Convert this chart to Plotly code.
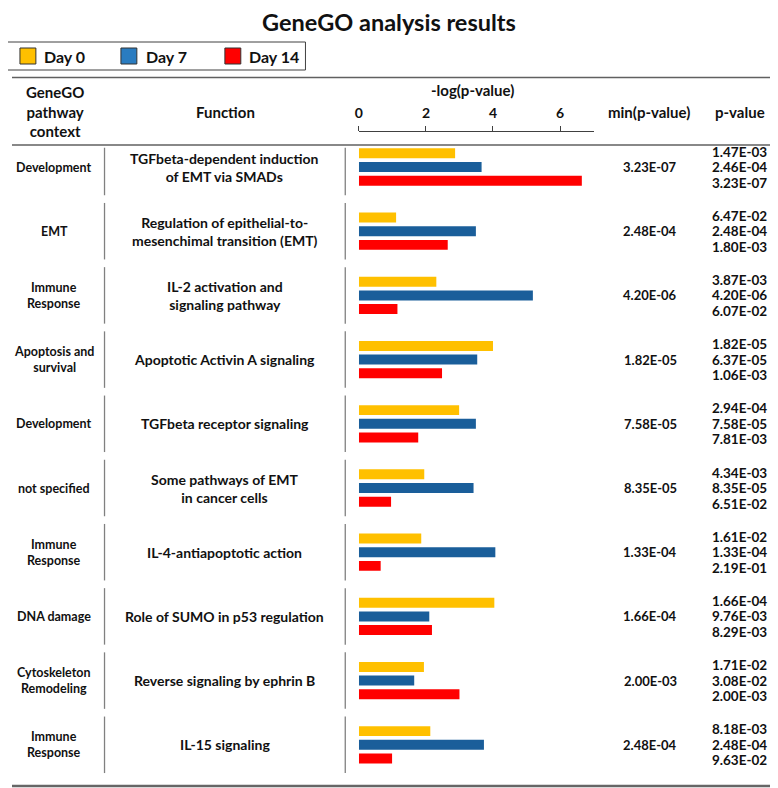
import plotly.graph_objects as go

# ---------------- data ----------------
contexts = ["Development", "EMT", "Immune<br>Response", "Apoptosis and<br>survival",
            "Development", "not specified", "Immune<br>Response", "DNA damage",
            "Cytoskeleton<br>Remodeling", "Immune<br>Response"]
functions = ["TGFbeta-dependent induction<br>of EMT via SMADs",
             "Regulation of epithelial-to-<br>mesenchimal transition (EMT)",
             "IL-2 activation and<br>signaling pathway",
             "Apoptotic Activin A signaling",
             "TGFbeta receptor signaling",
             "Some pathways of EMT<br>in cancer cells",
             "IL-4-antiapoptotic action",
             "Role of SUMO in p53 regulation",
             "Reverse signaling by ephrin B",
             "IL-15 signaling"]
series_names = ["Day 0", "Day 7", "Day 14"]
day0 = [2.87, 1.11, 2.31, 4.00, 2.99, 1.95, 1.86, 4.04, 1.94, 2.13]
day7 = [3.66, 3.49, 5.19, 3.53, 3.49, 3.42, 4.07, 2.10, 1.65, 3.73]
day14 = [6.65, 2.65, 1.15, 2.48, 1.77, 0.96, 0.65, 2.18, 3.00, 0.99]
min_p = ["3.23E-07", "2.48E-04", "4.20E-06", "1.82E-05", "7.58E-05",
         "8.35E-05", "1.33E-04", "1.66E-04", "2.00E-03", "2.48E-04"]
p_day0 = ["1.47E-03", "6.47E-02", "3.87E-03", "1.82E-05", "2.94E-04",
          "4.34E-03", "1.61E-02", "1.66E-04", "1.71E-02", "8.18E-03"]
p_day7 = ["2.46E-04", "2.48E-04", "4.20E-06", "6.37E-05", "7.58E-05",
          "8.35E-05", "1.33E-04", "9.76E-03", "3.08E-02", "2.48E-04"]
p_day14 = ["3.23E-07", "1.80E-03", "6.07E-02", "1.06E-03", "7.81E-03",
           "6.51E-02", "2.19E-01", "8.29E-03", "2.00E-03", "9.63E-02"]
x_ticks = [0, 2, 4, 6]

colors = ["#FFC000", "#1A5E9A", "#FF0000"]
legend_colors = ["#FFC000", "#2A7CC0", "#FF0000"]

# page has an 8px body margin: figure is offset by 8px
OFF = 8
W, H = 770, 780
FONT = "Lato, 'Open Sans', sans-serif"


def fx(px):
    return (px - OFF) / W


def fy(py):
    return 1 - (py - OFF) / H


fig = go.Figure()
for name, vals, col in zip(series_names, [day0, day7, day14], colors):
    fig.add_trace(go.Bar(y=functions, x=vals, orientation="h", name=name,
                         marker=dict(color=col, line=dict(width=0)),
                         showlegend=False, hoverinfo="x+name"))

n = len(functions)
row_top, row_pitch = 167, 64.2
dom_top = row_top - row_pitch / 2
dom_bot = row_top + (n - 1) * row_pitch + row_pitch / 2

fig.update_layout(
    width=W, height=H, margin=dict(l=0, r=0, t=0, b=0),
    paper_bgcolor="white", plot_bgcolor="white",
    font=dict(family=FONT, color="#111111"),
    barmode="group", bargap=0.361, bargroupgap=0.27,
    xaxis=dict(domain=[fx(356.7), fx(592.6)], range=[0, 7], side="top",
               anchor="free", position=fy(130.7), showgrid=False, zeroline=False,
               showline=True, linecolor="#404040", linewidth=1,
               ticks="outside", ticklen=5, tickcolor="#404040", tickwidth=1,
               tickvals=x_ticks, ticktext=[f"<b>{t}</b>" for t in x_ticks],
               tickfont=dict(size=14, family=FONT, color="#111111"),
               ticklabelstandoff=2),
    yaxis=dict(domain=[fy(dom_bot), fy(dom_top)], type="category",
               categoryorder="array", categoryarray=functions,
               range=[n - 0.5, -0.5], showticklabels=False, showgrid=False,
               zeroline=False, showline=False, ticks=""),
)

shapes = []
# horizontal rules
for py, w, c in [(77.5, 1.3, "#606060"), (145, 1.3, "#606060"), (786, 2.5, "#666666")]:
    shapes.append(dict(type="line", xref="paper", yref="paper", x0=0, x1=1,
                       y0=fy(py), y1=fy(py), line=dict(color=c, width=w)))
# vertical row separators
for i in range(n):
    for px in (101, 343):
        shapes.append(dict(type="line", xref="paper", yref="y", x0=fx(px), x1=fx(px),
                           y0=i - 0.3 if i == 0 else i - 0.44, y1=i + 0.44,
                           line=dict(color="#808080", width=1.3)))
# legend box
shapes.append(dict(type="rect", xref="paper", yref="paper", x0=fx(3), x1=fx(303),
                   y0=fy(70), y1=fy(42), line=dict(color="#404040", width=1)))
leg_sq_x = [16, 117.5, 222]
leg_txt_x = [38, 141, 244]
for sx, col in zip(leg_sq_x, legend_colors):
    shapes.append(dict(type="rect", xref="paper", yref="paper", x0=fx(sx), x1=fx(sx + 16),
                       y0=fy(64), y1=fy(48), fillcolor=col,
                       line=dict(color="#333333", width=1)))

ann = []


def add_text(text, x, y, size, xref="paper", yref="paper", xanchor="center", yshift=0):
    ann.append(dict(text=f"<b>{text}</b>", x=x, y=y, xref=xref, yref=yref,
                    xanchor=xanchor, yanchor="middle", showarrow=False,
                    yshift=yshift, font=dict(size=size, family=FONT, color="#111111")))


add_text("GeneGO analysis results", fx(387), fy(22), 23.5)
for tx, name in zip(leg_txt_x, series_names):
    add_text(name, fx(tx), fy(56), 16, xanchor="left")
# headers
add_text("GeneGO<br>pathway<br>context", fx(51), fy(112), 15)
add_text("Function", fx(222.5), fy(112.5), 15)
add_text("-log(p-value)", fx(470.5), fy(90.5), 15)
add_text("min(p-value)", fx(648), fy(112), 15)
add_text("p-value", fx(739.5), fy(112), 15)

for i in range(n):
    add_text(contexts[i], fx(50.5), functions[i], 12.5, yref="y")
    add_text(functions[i], fx(222), functions[i], 14, yref="y")
    add_text(min_p[i], fx(649.5), functions[i], 13, yref="y")
    for vals, sh in zip([p_day0, p_day7, p_day14], [15.5, 0, -15.5]):
        add_text(vals[i], fx(739.5), functions[i], 13.5, yref="y", yshift=sh)

fig.update_layout(shapes=shapes, annotations=ann)
fig.write_html("out.html")
